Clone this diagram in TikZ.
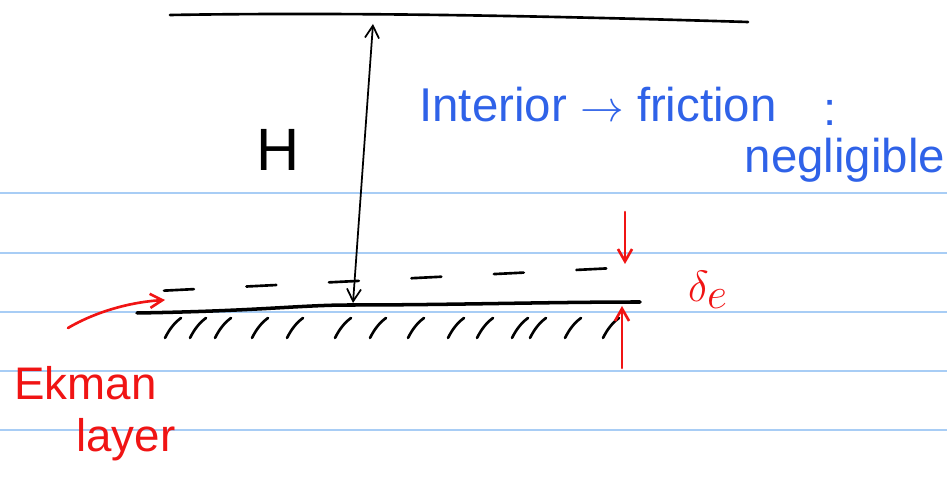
\documentclass[tikz,border=0pt]{standalone}
\usepackage{fontspec}
\usepackage{amsmath}
\newfontfamily\handfont{Liberation Sans}
\usetikzlibrary{arrows.meta}
\definecolor{ruleblue}{HTML}{A8CDF5}
\definecolor{inkblue}{HTML}{2F62E8}
\definecolor{inkred}{HTML}{F01414}
\begin{document}
\begin{tikzpicture}[
    x=0.02cm, y=-0.02cm, line cap=round, line join=round,
    rule/.style={draw=ruleblue, line width=1pt},
    ink/.style={black, line width=1.5pt},
    redink/.style={inkred, line width=1.5pt},
    barb/.style={-{Straight Barb[length=7pt, width=8pt]}},
    note/.style={font=\handfont\fontsize{27}{31}\selectfont, text=inkblue, inner sep=0pt},
    rednote/.style={font=\handfont\fontsize{26}{30}\selectfont, text=inkred, inner sep=0pt}]
  \useasboundingbox (0,0) rectangle (947,482);
  % Renglones
  \foreach \y in {193,253,312,371,430}
    \draw[rule] (0,\y) -- (947,\y);
  % Superficie superior
  \coordinate (topL) at (170,15);
  \coordinate (topR) at (748,22);
  \draw[ink] (topL) .. controls (350,12) and (550,16) .. (topR);
  % Fondo
  \coordinate (botL) at (137,313);
  \coordinate (botR) at (640,302);
  \draw[ink, line width=2pt] (botL) .. controls (260,311) and (300,305) .. (350,305)
    .. controls (450,305) and (550,302) .. (botR);
  \foreach \x in {165,190,215,252,287,335,370,408,448,477,512,530,565,603}
    \draw[ink] (\x,338) .. controls (\x+4,330) and (\x+9,323) .. (\x+16,318);
  % Capa de Ekman (borde superior)
  \coordinate (ekL) at (157,291);
  \coordinate (ekR) at (655,266);
  \draw[ink, dash pattern=on 17pt off 30pt, dash phase=-4pt] (ekL) -- (ekR);
  % Profundidad H
  \coordinate (hTop) at (373,24);
  \coordinate (hBot) at (353,303);
  \draw[black, line width=1pt, {Straight Barb[length=7pt, width=8pt]}-{Straight Barb[length=7pt, width=8pt]}] (hTop) -- (hBot);
  \node[font=\handfont\fontsize{34}{38}\selectfont, inner sep=0pt] (hlab) at (278,150) {H};
  % Interior
  \node[note] (interior) at (598,105) {Interior $\rightarrow$ friction};
  \node[note] (colon) at (830,113) {:};
  \node[note] (negl) at (845,160) {negligible};
  % Espesor delta_e
  \coordinate (dTop) at (625,212);
  \coordinate (dUp) at (625,264);
  \coordinate (uBot) at (622,368);
  \coordinate (uTop) at (622,306);
  \draw[redink, barb] (dTop) -- (dUp);
  \draw[redink, barb] (uBot) -- (uTop);
  \node[rednote, font=\fontsize{34}{38}\selectfont] (delta) at (708,290) {$\delta_e$};
  % Etiqueta Ekman
  \coordinate (ekArrow) at (165,300);
  \node[rednote, anchor=west] (ekman) at (14,383) {Ekman};
  \node[rednote, anchor=west] (layer) at (76,440) {layer};
  \draw[redink, barb] (68,328) .. controls (95,312) and (130,302) .. (ekArrow);
\end{tikzpicture}
\end{document}
